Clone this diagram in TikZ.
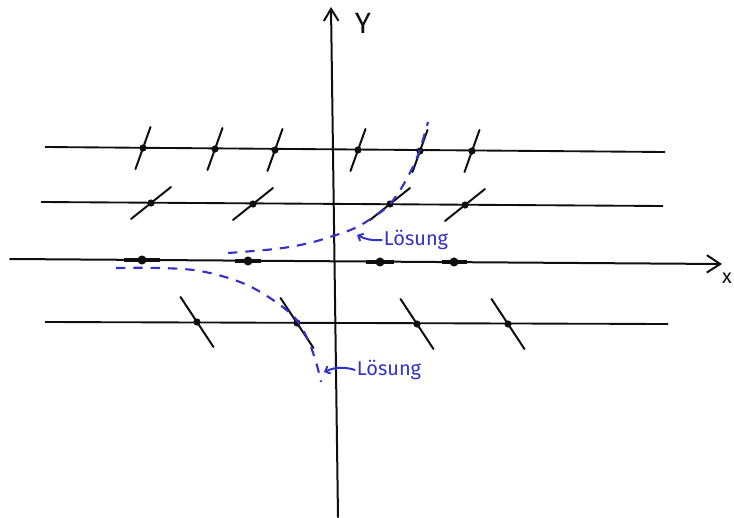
\documentclass[tikz,border=0pt]{standalone}
\usepackage{fontspec}
\setmainfont{Fira Sans}
\usetikzlibrary{arrows.meta, positioning}
\definecolor{penblue}{RGB}{50,50,200}
\definecolor{inkblack}{RGB}{15,15,15}

\begin{document}
\begin{tikzpicture}[x=0.75pt, y=-0.75pt,
    axisline/.style={inkblack, line width=1.5pt, line cap=round},
    fieldline/.style={inkblack, line width=1.4pt},
    slopemark/.style={inkblack, line width=1.5pt, line cap=round},
    flatmark/.style={inkblack, line width=3.2pt},
    solution/.style={penblue, line width=1.6pt, dash pattern=on 7pt off 6pt},
    soltext/.style={text=penblue, font=\fontsize{15}{15}\selectfont, inner sep=1pt}]
  \clip (0,0) rectangle (734,517);
  \useasboundingbox (0,0) rectangle (734,517);

  % axes
  \draw[axisline, -{Straight Barb[length=9pt, width=11pt, line width=1.5pt]}]
    (338,517) -- (331,7);
  \node[font=\fontsize{22}{22}\selectfont, inkblack] (ylabel) at (363,23) {Y};
  \draw[axisline, -{Straight Barb[length=10pt, width=13pt, line width=1.5pt]}]
    (10,259) -- (722,264);
  \node[font=\fontsize{15}{15}\selectfont, inkblack, inner sep=0pt] (xlabel) at (727,278) {x};

  % isoclines
  \draw[fieldline] (45,147) -- (665,152);
  \draw[fieldline] (41,202) -- (663,206);
  \draw[fieldline] (45,322) -- (668,324);

  % slope marks
  \foreach \px/\py in {143/148, 215/149, 275/150, 358/150, 420/151, 472/151} {
    \draw[slopemark] ({\px-7.5},{\py+21}) -- ({\px+7.5},{\py-21});
    \fill[inkblack] (\px,\py) circle (2.7pt);
  }
  \foreach \px/\py in {151/203, 253/204, 390/204, 465/205} {
    \draw[slopemark] ({\px-20},{\py+16}) -- ({\px+20},{\py-16});
    \fill[inkblack] (\px,\py) circle (2.7pt);
  }
  \foreach \px/\py/\hl in {142/260/18, 248/261/13, 380/262/14, 454/262/12.5} {
    \draw[flatmark] ({\px-\hl},\py) -- ({\px+\hl},\py);
    \fill[inkblack] (\px,\py) circle (3.4pt);
  }
  \foreach \px/\py in {197/322, 297/323, 417/324, 508/324} {
    \draw[slopemark] ({\px-16.5},{\py-25}) -- ({\px+16.5},{\py+25});
    \fill[inkblack] (\px,\py) circle (2.7pt);
  }

  % solutions
  \draw[solution] plot[smooth, tension=0.6] coordinates {
    (228,253) (275,249) (305,244) (330,237) (355,228) (375,216)
    (390,204) (405,182) (418,155) (428,122)};
  \draw[solution] plot[smooth, tension=0.6] coordinates {
    (116,268) (160,268) (200,271) (240,282) (270,298) (295,318)
    (308,340) (316,362) (321,382)};

  \node[soltext] (solupper) at (416,240) {Lösung};
  \node[soltext] (sollower) at (389,370) {Lösung};
  \coordinate (hitupper) at (357,235);
  \coordinate (hitlower) at (324,372);
  \draw[penblue, line width=1.5pt, -{Straight Barb[length=3pt, width=6pt]}]
    (solupper.west) to[bend left=15] (hitupper);
  \draw[penblue, line width=1.5pt, -{Straight Barb[length=3pt, width=6pt]}]
    (sollower.west) to[bend right=20] (hitlower);
\end{tikzpicture}
\end{document}
